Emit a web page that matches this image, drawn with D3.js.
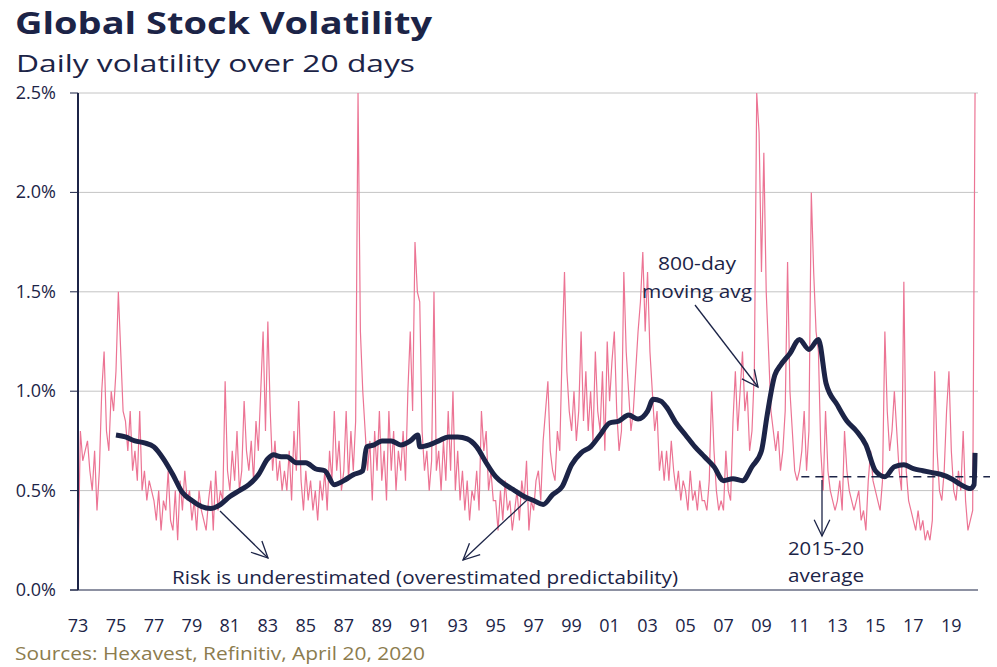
<!DOCTYPE html>
<html lang="en">
<head>
<meta charset="UTF-8">
<title>Global Stock Volatility</title>
<script src="https://cdn.jsdelivr.net/npm/d3@7/dist/d3.min.js"></script>
<style>
	body { margin: 0; background: #fff; }
	text { font-family: "Open Sans", Lato, sans-serif; }
</style>
</head>
<body>
<svg id="chart" width="997" height="667"></svg>
<script>
	// daily volatility, 8 readings per year (1973 .. 2020)
	var startYear = 1973;
	var volYears = [
		[0.1, 0.8, 0.65, 0.7, 0.75, 0.6, 0.5, 0.7],
		[0.4, 0.6, 1.0, 1.2, 0.8, 0.7, 1.0, 0.9],
		[1.1, 1.5, 1.2, 0.9, 0.85, 0.7, 0.9, 0.6],
		[0.7, 0.55, 0.9, 0.5, 0.6, 0.45, 0.55, 0.5],
		[0.45, 0.35, 0.5, 0.3, 0.45, 0.4, 0.6, 0.35],
		[0.3, 0.5, 0.25, 0.55, 0.4, 0.6, 0.45, 0.5],
		[0.35, 0.45, 0.3, 0.5, 0.4, 0.35, 0.3, 0.45],
		[0.55, 0.3, 0.6, 0.4, 0.5, 0.45, 1.05, 0.6],
		[0.5, 0.7, 0.55, 0.8, 0.5, 0.6, 0.95, 0.7],
		[0.6, 0.75, 0.55, 0.85, 0.7, 1.0, 1.3, 0.8],
		[1.35, 0.9, 0.6, 0.75, 0.55, 0.65, 0.5, 0.6],
		[0.5, 0.7, 0.45, 0.8, 0.6, 0.95, 0.55, 0.4],
		[0.6, 0.45, 0.55, 0.4, 0.5, 0.35, 0.55, 0.45],
		[0.6, 0.4, 0.7, 0.55, 0.9, 0.6, 0.75, 0.5],
		[0.6, 0.9, 0.55, 0.8, 0.6, 0.85, 2.5, 1.3],
		[1.0, 0.8, 0.6, 0.75, 0.45, 0.8, 0.6, 0.9],
		[0.55, 0.7, 0.45, 0.9, 0.6, 0.8, 0.5, 0.7],
		[0.6, 0.8, 0.55, 1.0, 1.3, 0.9, 1.75, 1.5],
		[1.45, 0.8, 0.6, 0.7, 0.5, 0.65, 1.5, 0.6],
		[0.7, 0.5, 0.75, 0.55, 0.9, 0.6, 1.0, 0.5],
		[0.7, 0.45, 0.6, 0.4, 0.55, 0.35, 0.5, 0.45],
		[0.6, 0.4, 0.9, 0.7, 0.8, 0.5, 0.6, 0.45],
		[0.45, 0.3, 0.5, 0.35, 0.55, 0.4, 0.45, 0.3],
		[0.4, 0.5, 0.35, 0.55, 0.45, 0.65, 0.3, 0.45],
		[0.4, 0.55, 0.6, 0.45, 0.75, 0.9, 1.05, 0.7],
		[0.6, 0.55, 0.8, 0.7, 1.2, 1.6, 1.1, 0.9],
		[0.8, 1.0, 0.75, 0.9, 1.3, 0.85, 1.1, 0.8],
		[1.0, 0.75, 1.2, 0.9, 0.8, 1.1, 0.7, 1.25],
		[0.95, 1.15, 1.3, 0.9, 0.7, 0.8, 1.6, 1.2],
		[1.0, 0.8, 0.9, 1.1, 1.3, 1.45, 1.7, 1.3],
		[1.6, 1.2, 1.0, 0.8, 0.9, 0.6, 0.7, 0.55],
		[0.7, 0.55, 0.75, 0.6, 0.5, 0.6, 0.45, 0.55],
		[0.5, 0.4, 0.6, 0.45, 0.5, 0.4, 0.55, 0.45],
		[0.45, 0.4, 0.55, 1.0, 0.7, 0.5, 0.4, 0.45],
		[0.4, 0.7, 0.5, 0.45, 0.85, 1.1, 0.8, 1.0],
		[1.2, 0.9, 1.0, 0.7, 0.8, 1.1, 2.5, 2.3],
		[1.6, 2.2, 1.5, 1.2, 0.9, 0.8, 0.7, 0.8],
		[0.6, 0.7, 0.9, 1.65, 1.0, 0.8, 0.6, 0.55],
		[0.6, 0.7, 0.9, 0.6, 0.8, 2.0, 1.6, 1.3],
		[1.2, 0.7, 0.5, 0.9, 0.6, 0.5, 0.45, 0.4],
		[0.45, 0.55, 0.4, 0.8, 0.6, 0.5, 0.45, 0.4],
		[0.45, 0.5, 0.35, 0.4, 0.3, 0.55, 0.7, 0.55],
		[0.5, 0.45, 0.4, 0.55, 1.3, 0.9, 0.7, 0.8],
		[1.0, 0.8, 0.6, 0.5, 1.55, 0.6, 0.45, 0.4],
		[0.35, 0.3, 0.4, 0.3, 0.35, 0.25, 0.3, 0.25],
		[0.35, 1.1, 0.7, 0.5, 0.45, 0.6, 0.9, 1.1],
		[0.7, 0.5, 0.45, 0.6, 0.5, 0.8, 0.45, 0.3],
		[0.35, 0.4, 2.5]
	];

	// 800-day moving average [year, %]
	var maYears = [1975.0,1975.5,1976.0,1976.5,1977.0,1977.5,1978.0,1978.5,1979.0,1979.5,1980.0,1980.5,1981.0,1981.5,1982.0,1982.5,1983.0,1983.3,1983.7,1984.0,1984.5,1985.0,1985.5,1986.0,1986.5,1987.0,1987.5,1988.0,1988.2,1988.6,1989.0,1989.5,1990.0,1990.5,1990.9,1991.0,1991.5,1992.0,1992.5,1993.0,1993.5,1994.0,1994.5,1995.0,1995.5,1996.0,1996.5,1997.0,1997.5,1998.0,1998.5,1999.0,1999.5,2000.0,2000.5,2001.0,2001.5,2002.0,2002.5,2003.0,2003.3,2003.7,2004.0,2004.5,2005.0,2005.5,2006.0,2006.5,2007.0,2007.5,2008.0,2008.5,2009.0,2009.3,2009.7,2010.0,2010.5,2011.0,2011.5,2012.0,2012.4,2013.0,2013.5,2014.0,2014.5,2015.0,2015.5,2016.0,2016.5,2017.0,2017.5,2018.0,2018.5,2019.0,2019.5,2020.0,2020.2,2020.25];
	var maValues = [0.78,0.77,0.75,0.74,0.72,0.66,0.58,0.49,0.45,0.42,0.41,0.43,0.47,0.50,0.53,0.58,0.66,0.68,0.67,0.67,0.64,0.64,0.61,0.60,0.53,0.55,0.58,0.60,0.72,0.73,0.75,0.75,0.73,0.75,0.78,0.72,0.73,0.75,0.77,0.77,0.76,0.72,0.64,0.57,0.53,0.50,0.47,0.45,0.43,0.48,0.52,0.63,0.69,0.72,0.78,0.84,0.85,0.88,0.86,0.90,0.96,0.95,0.92,0.84,0.78,0.72,0.67,0.62,0.55,0.56,0.55,0.62,0.70,0.88,1.08,1.13,1.19,1.26,1.21,1.26,1.04,0.93,0.85,0.80,0.73,0.60,0.57,0.62,0.63,0.61,0.60,0.59,0.58,0.56,0.53,0.51,0.53,0.69];

	var avg2015 = 0.57;
	var yTicks = [0, 0.5, 1.0, 1.5, 2.0, 2.5];
	var xTickYears = d3.range(1973, 2020, 2);

	var navy = "#1c2447", pink = "#ec7494";
	var svg = d3.select("#chart");
	var x = d3.scaleLinear().domain([1973, 2020.3]).range([78, 976]);
	var y = d3.scaleLinear().domain([0, 2.5]).range([590, 93]);

	var vol = [];
	volYears.forEach(function(row, i) {
		row.forEach(function(v, j) { vol.push([startYear + i + j / 8, v]); });
	});

	// grid
	svg.append("g").selectAll("line").data(yTicks.slice(1)).enter().append("line")
		.attr("x1", 78).attr("x2", 978)
		.attr("y1", function(d){ return y(d); }).attr("y2", function(d){ return y(d); })
		.attr("stroke", "#c4c4c4").attr("stroke-width", 1);

	svg.append("g").selectAll("text").data(yTicks).enter().append("text")
		.attr("x", 56).attr("y", function(d){ return y(d) + 6; })
		.attr("text-anchor", "end").attr("font-size", 18).attr("fill", navy)
		.text(function(d){ return d.toFixed(1) + "%"; });
	svg.append("g").selectAll("line").data(yTicks).enter().append("line")
		.attr("x1", 70).attr("x2", 78)
		.attr("y1", function(d){ return y(d); }).attr("y2", function(d){ return y(d); })
		.attr("stroke", navy);

	svg.append("g").selectAll("text").data(xTickYears).enter().append("text")
		.attr("x", function(d){ return x(d); }).attr("y", 632)
		.attr("text-anchor", "middle").attr("font-size", 18).attr("fill", navy)
		.text(function(d){ return String(d).slice(2); });

	// series
	svg.append("path").datum(vol)
		.attr("d", d3.line().x(function(d){ return x(d[0]); }).y(function(d){ return y(d[1]); }))
		.attr("fill", "none").attr("stroke", pink).attr("stroke-width", 1.2);

	svg.append("path").datum(d3.zip(maYears, maValues))
		.attr("d", d3.line().curve(d3.curveMonotoneX).x(function(d){ return x(d[0]); }).y(function(d){ return y(d[1]); }))
		.attr("fill", "none").attr("stroke", navy).attr("stroke-width", 5).attr("stroke-linejoin", "round");

	svg.append("line").attr("x1", x(2011.1)).attr("x2", 990)
		.attr("y1", y(avg2015)).attr("y2", y(avg2015))
		.attr("stroke", navy).attr("stroke-width", 1.6).attr("stroke-dasharray", "8,6");

	// axes
	svg.append("line").attr("x1", 78).attr("x2", 78).attr("y1", 93).attr("y2", 590).attr("stroke", navy).attr("stroke-width", 2);
	svg.append("line").attr("x1", 70).attr("x2", 978).attr("y1", 590).attr("y2", 590).attr("stroke", navy).attr("stroke-width", 1.2);

	// annotations
	function arrow(x1, y1, x2, y2) {
		var a = Math.atan2(y2 - y1, x2 - x1), h = 18, s = 0.45;
		svg.append("line").attr("x1", x1).attr("y1", y1).attr("x2", x2).attr("y2", y2).attr("stroke", navy).attr("stroke-width", 1.3);
		svg.append("path").attr("d", "M" + (x2 - h*Math.cos(a - s)) + "," + (y2 - h*Math.sin(a - s)) +
			"L" + x2 + "," + y2 + "L" + (x2 - h*Math.cos(a + s)) + "," + (y2 - h*Math.sin(a + s)))
			.attr("fill", "none").attr("stroke", navy).attr("stroke-width", 1.3);
	}
	arrow(220, 511, 268, 558);
	arrow(527, 500, 463, 560);
	arrow(695, 305, 758, 387);
	arrow(822, 480, 822, 536);

	function label(tx, ty, str, size, len) {
		svg.append("text").attr("x", tx).attr("y", ty).attr("font-size", size)
			.attr("text-anchor", "middle").attr("fill", navy)
			.attr("textLength", len).attr("lengthAdjust", "spacingAndGlyphs").text(str);
	}
	label(425, 584, "Risk is underestimated (overestimated predictability)", 18, 506);
	label(697, 270, "800-day", 18, 78);
	label(697, 298, "moving avg", 18, 110);
	label(826, 555, "2015-20", 18, 76);
	label(826, 582, "average", 18, 76);

	svg.append("text").attr("x", 15).attr("y", 34).attr("font-size", 30).attr("font-weight", "bold").attr("fill", navy)
		.attr("textLength", 417).attr("lengthAdjust", "spacingAndGlyphs").text("Global Stock Volatility");
	svg.append("text").attr("x", 16).attr("y", 72).attr("font-size", 23).attr("fill", navy)
		.attr("textLength", 399).attr("lengthAdjust", "spacingAndGlyphs").text("Daily volatility over 20 days");
	svg.append("text").attr("x", 15).attr("y", 660).attr("font-size", 19).attr("fill", "#8c7c4e")
		.attr("textLength", 410).attr("lengthAdjust", "spacingAndGlyphs").text("Sources: Hexavest, Refinitiv, April 20, 2020");
</script>
</body>
</html>
